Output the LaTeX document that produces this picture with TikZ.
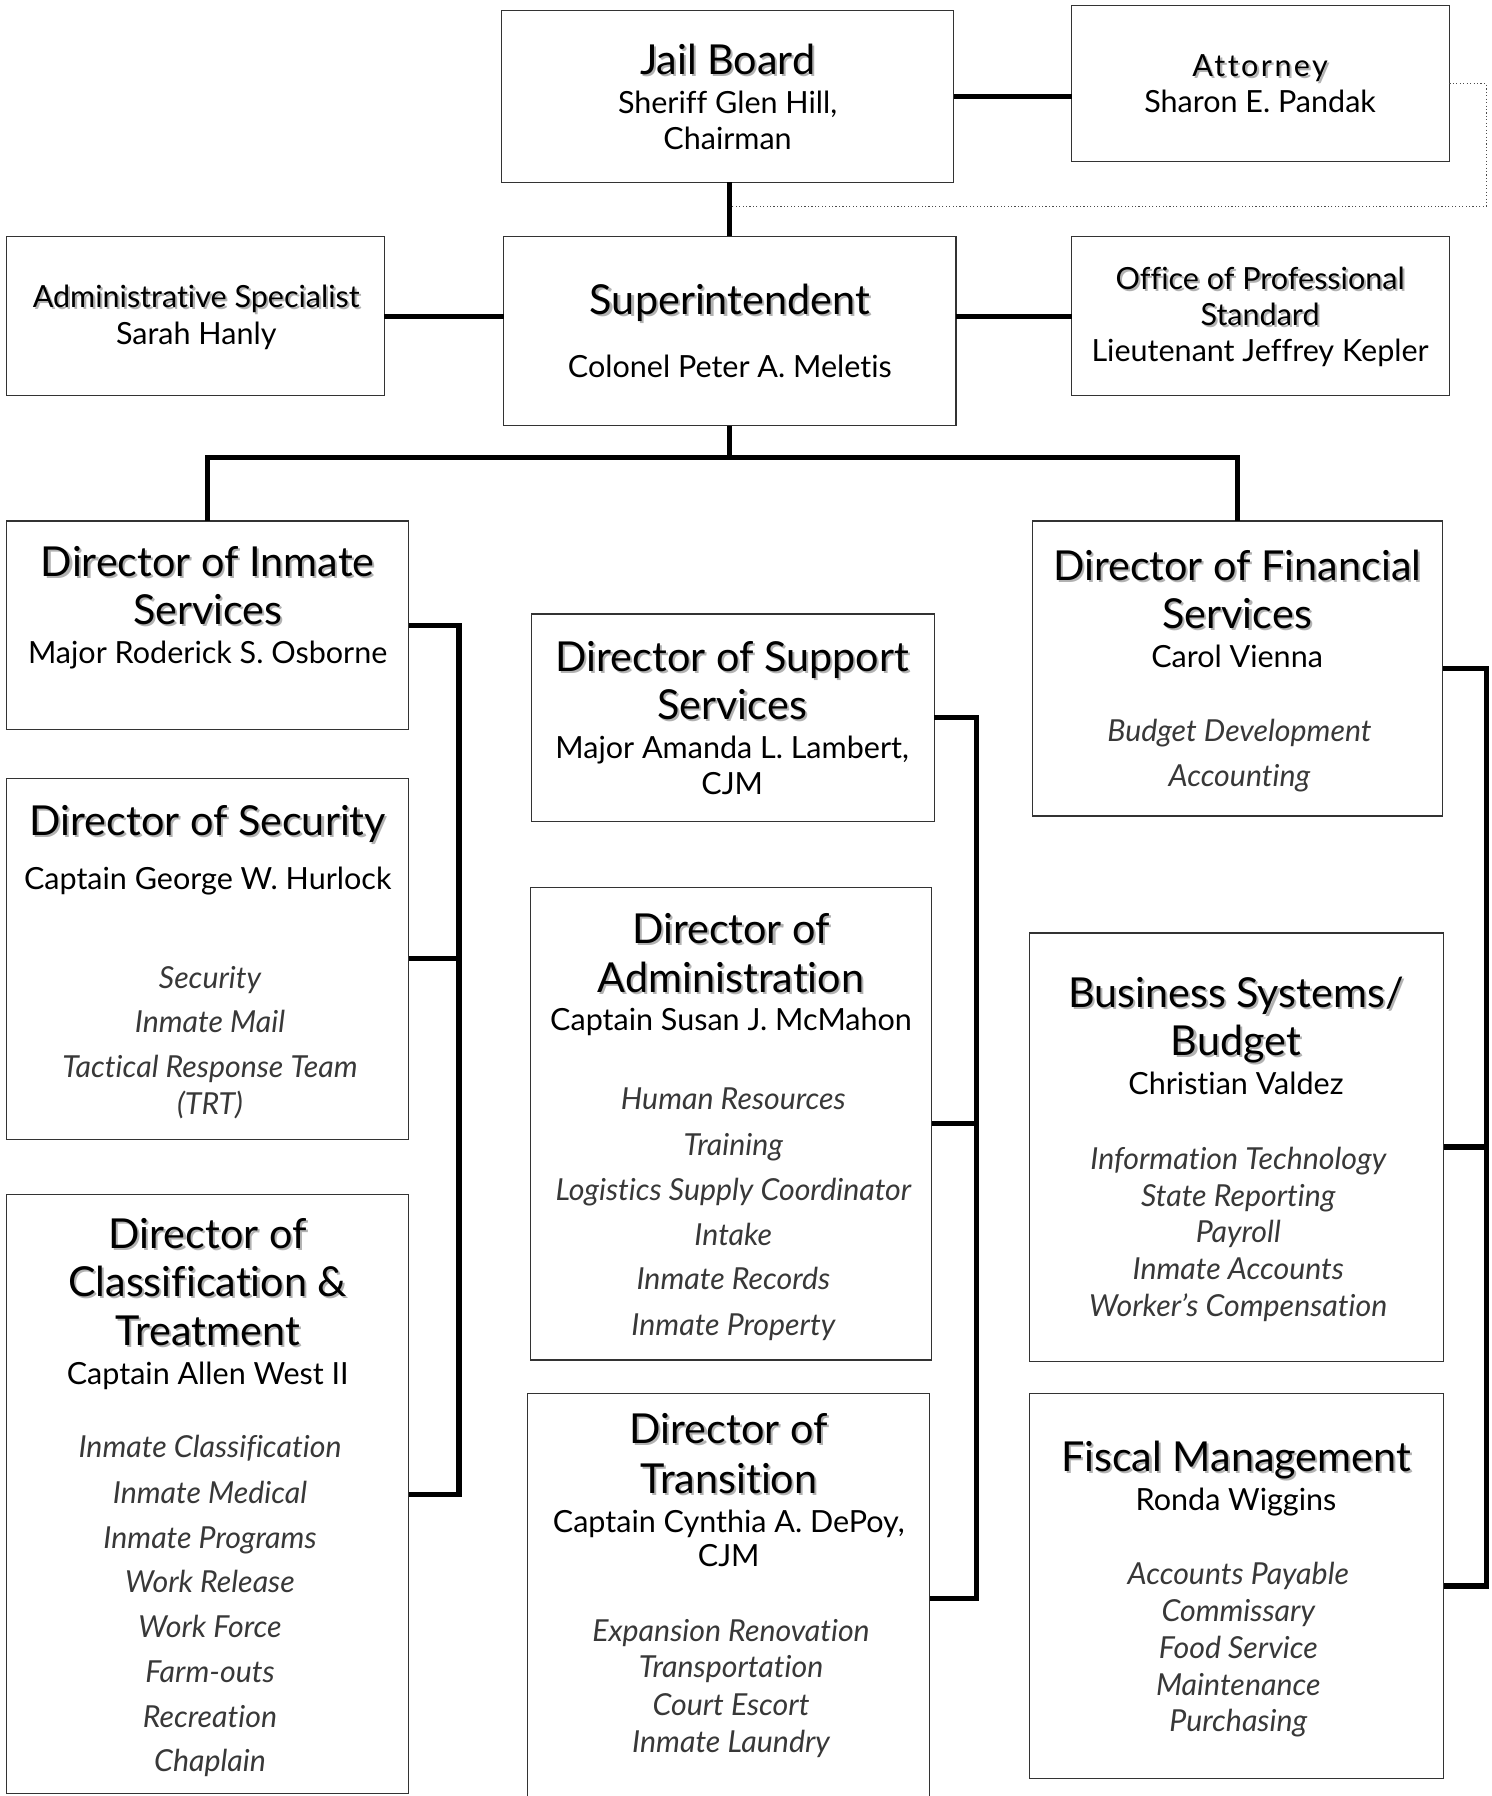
\documentclass[tikz,border=0pt]{standalone}
\usepackage{fontspec}
\setmainfont{Lato}[Ligatures={NoCommon}]
\usetikzlibrary{calc}
\newcounter{tn}
\newcommand\shd[1]{\makebox[0pt][l]{\color{black!30}\kern1.8pt\raisebox{-1.8pt}{#1}}#1}
\newcommand\tx[4]{\stepcounter{tn}\node[#1] (t\arabic{tn}) at (#2,#3) {#4};}
\newcommand\mkbox[5]{\node[box, minimum width={(#4)-(#2)}, minimum height={(#5)-(#3)}] (#1) at ({((#2)+(#4))/2},{((#3)+(#5))/2}) {};}
\begin{document}
\begin{tikzpicture}[x=1pt,y=-1pt,
  box/.style={draw=black!80, line width=1pt, fill=white, inner sep=0pt, outer sep=0pt},
  conn/.style={line width=4.5pt, line join=miter, black},
  dotline/.style={dotted, line width=1pt, black!70},
  ttl/.style={anchor=base, inner sep=0pt, font=\fontsize{36}{42}\selectfont},
  nm/.style={anchor=base, inner sep=0pt, font=\fontsize{26.6}{31}\selectfont},
  itl/.style={anchor=base, inner sep=0pt, font=\fontsize{26.4}{31}\selectfont\itshape, text=black!78}]
\useasboundingbox (0,0) rectangle (1300,1565);
% boxes
\mkbox{jb}{437}{9}{831}{159}
\mkbox{att}{934}{5}{1263}{141}
\mkbox{sup}{439}{206}{833}{371}
\mkbox{adm}{6}{206}{335}{345}
\mkbox{ops}{934}{206}{1263}{345}
\mkbox{dis}{6}{454}{356}{636}
\mkbox{dsec}{6}{678}{356}{993}
\mkbox{dct}{6}{1041}{356}{1563}
\mkbox{dss}{463}{535}{814}{716}
\mkbox{dadm}{462}{773}{812}{1185}
\mkbox{dtr}{460}{1214}{810}{1572}
\mkbox{dfs}{900}{454}{1257}{711}
\mkbox{dbs}{897}{813}{1258}{1186}
\mkbox{dfm}{897}{1214}{1258}{1550}
% coordinates
\coordinate (dj) at (636,180);
\coordinate (rc) at (1295,180);
\coordinate (bus) at (636,399);
\coordinate (L) at (400,0);
\coordinate (M) at (851,0);
\coordinate (R) at (1295,0);
% connectors
\draw[conn] ($(att.west)+(0,11)$) -- ($(att.west -| jb.east)+(0,11)$);
\draw[conn] (jb.south -| dj) -- (sup.north -| dj);
\draw[dotline] (att.east) -| (rc) -- (dj);
\draw[conn] (adm.east) -- (adm.east -| sup.west);
\draw[conn] (ops.west -| sup.east) -- (ops.west);
\draw[conn] (sup.south) -- (bus);
\draw[conn] (dis.north) |- (bus) -| (dfs.north);
\draw[conn] (dis.east) -- (dis.east -| L) -- (dct.east -| L) -- (dct.east);
\draw[conn] (dsec.east) -- (dsec.east -| L);
\draw[conn] (dss.east) -- (dss.east -| M) -- (dtr.east -| M) -- (dtr.east);
\draw[conn] (dadm.east) -- (dadm.east -| M);
\draw[conn] (dfs.east) -- (dfs.east -| R) -- (dfm.east -| R) -- (dfm.east);
\draw[conn] (dbs.east) -- (dbs.east -| R);
% texts
\tx{ttl}{634}{64.5}{\shd{Jail Board}}
\tx{nm}{634}{99}{Sheriff Glen Hill,}
\tx{nm}{634}{130}{Chairman}
\tx{nm}{1098}{67}{\addfontfeatures{LetterSpace=8}\shd{Attorney}}
\tx{nm}{1098}{98}{Sharon E. Pandak}
\tx{ttl}{636}{274}{\shd{Superintendent}}
\tx{nm}{636}{329}{Colonel Peter A. Meletis}
\tx{nm}{171}{268}{\shd{Administrative Specialist}}
\tx{nm}{171}{300}{Sarah Hanly}
\tx{nm}{1098}{252}{\shd{Office of Professional}}
\tx{nm}{1098}{284}{\shd{Standard}}
\tx{nm}{1098}{315}{Lieutenant Jeffrey Kepler}
% inmate services
\tx{ttl}{181}{502}{\shd{Director of Inmate}}
\tx{ttl}{181}{544}{\shd{Services}}
\tx{nm}{181}{578}{Major Roderick S. Osborne}
% security
\tx{ttl}{181}{728}{\shd{Director of Security}}
\tx{nm}{181}{775}{Captain George W. Hurlock}
\tx{itl}{183}{861}{Security}
\tx{itl}{183}{900}{Inmate Mail}
\tx{itl}{183}{939}{Tactical Response Team}
\tx{itl}{183}{971}{(TRT)}
% classification
\tx{ttl}{181}{1088}{\shd{Director of}}
\tx{ttl}{181}{1130}{\shd{Classification \&}}
\tx{ttl}{181}{1172}{\shd{Treatment}}
\tx{nm}{181}{1206}{Captain Allen West II}
\tx{itl}{183}{1270}{Inmate Classification}
\tx{itl}{183}{1310}{Inmate Medical}
\tx{itl}{183}{1349}{Inmate Programs}
\tx{itl}{183}{1388}{Work Release}
\tx{itl}{183}{1427}{Work Force}
\tx{itl}{183}{1466}{Farm-outs}
\tx{itl}{183}{1505}{Recreation}
\tx{itl}{183}{1544}{Chaplain}
% support
\tx{ttl}{638}{585}{\shd{Director of Support}}
\tx{ttl}{638}{627}{\shd{Services}}
\tx{nm}{638}{661}{Major Amanda L. Lambert,}
\tx{nm}{638}{692}{CJM}
% administration
\tx{ttl}{637}{822}{\shd{Director of}}
\tx{ttl}{637}{865}{\shd{Administration}}
\tx{nm}{637}{898}{Captain Susan J. McMahon}
\tx{itl}{639}{967}{Human Resources}
\tx{itl}{639}{1007}{Training}
\tx{itl}{639}{1046}{Logistics Supply Coordinator}
\tx{itl}{639}{1085}{Intake}
\tx{itl}{639}{1124}{Inmate Records}
\tx{itl}{639}{1164}{Inmate Property}
% transition
\tx{ttl}{635}{1258}{\shd{Director of}}
\tx{ttl}{635}{1301}{\shd{Transition}}
\tx{nm}{635}{1335}{Captain Cynthia A. DePoy,}
\tx{nm}{635}{1365}{CJM}
\tx{itl}{637}{1430}{Expansion Renovation}
\tx{itl}{637}{1462}{Transportation}
\tx{itl}{637}{1495}{Court Escort}
\tx{itl}{637}{1527}{Inmate Laundry}
% financial
\tx{ttl}{1078}{506}{\shd{Director of Financial}}
\tx{ttl}{1078}{548}{\shd{Services}}
\tx{nm}{1078}{582}{Carol Vienna}
\tx{itl}{1080}{646}{Budget Development}
\tx{itl}{1080}{685}{Accounting}
% business systems
\tx{ttl}{1077}{878}{\shd{Business Systems/}}
\tx{ttl}{1077}{920}{\shd{Budget}}
\tx{nm}{1077}{954}{Christian Valdez}
\tx{itl}{1079}{1019}{Information Technology}
\tx{itl}{1079}{1051}{State Reporting}
\tx{itl}{1079}{1083}{Payroll}
\tx{itl}{1079}{1115}{Inmate Accounts}
\tx{itl}{1079}{1147}{Worker’s Compensation}
% fiscal
\tx{ttl}{1077}{1282}{\shd{Fiscal Management}}
\tx{nm}{1077}{1316}{Ronda Wiggins}
\tx{itl}{1079}{1381}{Accounts Payable}
\tx{itl}{1079}{1413}{Commissary}
\tx{itl}{1079}{1445}{Food Service}
\tx{itl}{1079}{1477}{Maintenance}
\tx{itl}{1079}{1509}{Purchasing}
\end{tikzpicture}
\end{document}
